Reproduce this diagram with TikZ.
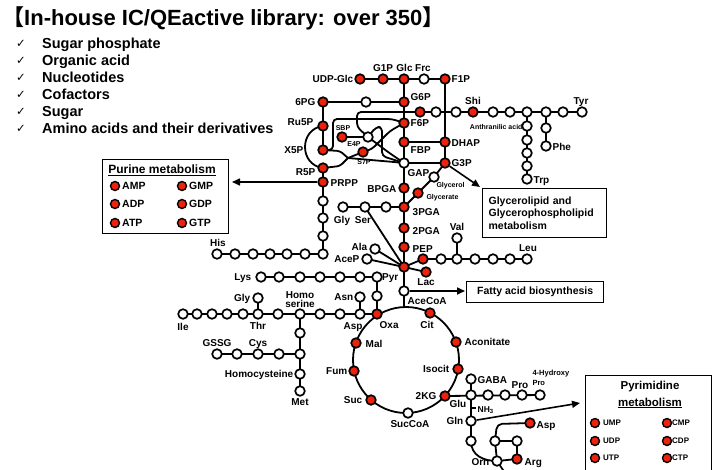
\documentclass[tikz,border=0pt]{standalone}
\usepackage{fontspec}
\setmainfont{Liberation Sans}
\newfontfamily\cjkf{Noto Sans CJK JP}
\newfontfamily\djv{DejaVu Sans}
\usetikzlibrary{arrows.meta}
\definecolor{nred}{RGB}{238,34,12}
\pgfdeclarelayer{back}
\pgfdeclarelayer{bg}
\pgfsetlayers{back,bg,main}
\tikzset{
  rn/.style={circle,draw=black,fill=nred,line width=1.7pt,minimum size=9.6pt,inner sep=0pt},
  wn/.style={rn,fill=white},
  bn/.style={circle,draw=black,fill=nred,line width=1.4pt,minimum size=9pt,inner sep=0pt},
  lab/.style={font=\bfseries\fontsize{10}{11}\selectfont,inner sep=0.5pt,text height=7.3pt,text depth=0pt},
  sml/.style={font=\bfseries\fontsize{7}{8}\selectfont,inner sep=0.3pt,text height=5.1pt,text depth=0pt},
  ln/.style={line width=1.8pt,line cap=round,line join=round},
  arr/.style={line width=1.6pt,-{Triangle[length=8pt,width=7pt]}},
  boxs/.style={draw=black,line width=1.3pt,inner sep=0pt},
}
\newcommand\ml[5][lab]{\node[#1,anchor=#2] (#3) at (#4) {#5};}
\begin{document}
\begin{tikzpicture}[x=1pt,y=-1pt]
\useasboundingbox (0,0) rectangle (717,469);
\begin{pgfonlayer}{back}
\fill[white] (0,0) rectangle (717,469);
\end{pgfonlayer}
% ---------- title and list
\node[anchor=west,inner sep=0,font=\bfseries\fontsize{22}{24}\selectfont] (title) at (2,18) {{\cjkf 【}In-house IC/QEactive library: over 350{\cjkf 】}};
\foreach \y/\t [count=\i] in {43/Sugar phosphate,60/Organic acid,77/Nucleotides,94/Cofactors,111/Sugar,128.5/Amino acids and their derivatives}{
  \node[inner sep=0,font=\djv\fontsize{11.5}{12}\selectfont,text height=8pt,text depth=0pt] (ck\i) at (21,\y) {✓};
  \node[anchor=west,inner sep=0,font=\bfseries\fontsize{14.5}{15}\selectfont,text height=10.4pt,text depth=0pt] (it\i) at (42,\y) {\t};
}
% ---------- glycolysis
\node[rn] (udp) at (360,79) {};
\node[rn] (g1p) at (383,79) {};
\node[rn] (glc) at (404,79) {};
\node[wn] (frc) at (424,79) {};
\node[rn] (f1p) at (445,79) {};
\node[rn] (pg6) at (323,102) {};
\node[wn] (w6) at (366,102) {};
\node[rn] (g6p) at (404,102) {};
\node[rn] (f6p) at (404,123) {};
\node[rn] (fbp) at (404,142) {};
\node[wn] (gap) at (404,163) {};
\node[rn] (dhap) at (445,142) {};
\node[rn] (g3p) at (445,163) {};
\node[rn] (bpga) at (404,188) {};
\node[rn] (pga3) at (404,207) {};
\node[rn] (pga2) at (404,228) {};
\node[rn] (pep) at (404,247) {};
\node[rn] (pyr) at (404,267) {};
\node[wn] (acoa) at (404,291) {};
\node[wn] (glyol) at (434,177) {};
\node[rn] (glyate) at (418,193) {};
% ---------- shikimate
\node[rn] (s1) at (420,112) {};
\node[wn] (s2) at (436,112) {};
\node[wn] (s3) at (456,112) {};
\node[rn] (shi) at (473,112) {};
\node[wn] (s5) at (493,112) {};
\node[wn] (s6) at (510,112) {};
\node[wn] (s7) at (527,112) {};
\node[wn] (s8) at (546,112) {};
\node[wn] (s9) at (563,112) {};
\node[wn] (tyr) at (582,112) {};
\node[wn] (t1) at (527,126) {};
\node[wn] (t2) at (527,140) {};
\node[wn] (t3) at (527,153) {};
\node[wn] (t4) at (527,166) {};
\node[wn] (trp) at (527,179) {};
\node[wn] (p1) at (546,128) {};
\node[wn] (phe) at (546,146) {};
% ---------- pentose phosphate
\node[rn] (ru5p) at (323,126) {};
\node[rn] (x5p) at (323,150) {};
\node[rn] (r5p) at (323,168) {};
\node[rn] (prpp) at (323,182) {};
\node[rn] (sbp) at (342,137) {};
\node[wn] (e4p) at (368,137) {};
\node[rn] (s7p) at (363,152) {};
\coordinate (jn) at (348,158);
% ---------- histidine
\node[wn] (r1) at (323,201) {};
\node[wn] (r2) at (323,218) {};
\node[wn] (r3) at (323,236) {};
\node[wn] (h7) at (323,254) {};
\node[wn] (h6) at (305,254) {};
\node[wn] (h5) at (287,254) {};
\node[wn] (h4) at (270,254) {};
\node[wn] (h3) at (253,254) {};
\node[wn] (h2) at (235,254) {};
\node[wn] (his) at (217,254) {};
% ---------- around pyruvate
\node[wn] (gly1) at (343,207) {};
\node[wn] (ser) at (365,207) {};
\node[wn] (gs3) at (386,207) {};
\node[wn] (ala) at (375,249) {};
\node[wn] (acep) at (367,259) {};
\node[rn] (lac) at (426,272) {};
\node[rn] (v0) at (423,259) {};
\node[wn] (v1) at (441,259) {};
\node[wn] (v2) at (457,259) {};
\node[wn] (val) at (457,238) {};
\node[wn] (v3) at (475,259) {};
\node[wn] (v4) at (493,259) {};
\node[wn] (v5) at (510,259) {};
\node[wn] (leu) at (527,259) {};
% ---------- lysine row
\foreach \x [count=\i] in {261,279,300,320,340,360,377}{\node[wn] (k\i) at (\x,277) {};}
\node[wn] (k8) at (377,296) {};
% ---------- aspartate family
\node[wn] (ile) at (183,314) {};
\node[wn] (i2) at (197,314) {};
\node[wn] (i3) at (212,314) {};
\node[wn] (i4) at (227,314) {};
\node[wn] (i5) at (243,314) {};
\node[wn] (thr) at (258,314) {};
\node[wn] (m1) at (278,314) {};
\node[wn] (hser) at (300,314) {};
\node[wn] (m2) at (320,314) {};
\node[wn] (m3) at (340,314) {};
\node[wn] (asp) at (360,314) {};
\node[rn] (oxa) at (377,314) {};
\node[wn] (gly2) at (258,298) {};
\node[wn] (asn) at (360,297) {};
\node[wn] (gssg) at (217,354) {};
\node[wn] (c2) at (237,354) {};
\node[wn] (cys) at (258,354) {};
\node[wn] (c4) at (279,354) {};
\node[wn] (c5) at (300,354) {};
\node[wn] (vh) at (300,333) {};
\node[wn] (hcy) at (300,374) {};
\node[wn] (met) at (300,391) {};
% ---------- TCA
\coordinate (tcac) at (406,360);
\coordinate (tcatop) at (404,307.2);
\node[rn] (cit) at (430,313) {};
\node[rn] (acon) at (456,342) {};
\node[rn] (isoc) at (458,369) {};
\node[rn] (kg) at (445,396) {};
\node[wn] (succoa) at (408,413) {};
\node[rn] (suc) at (371,400) {};
\node[rn] (fum) at (354,371) {};
\node[rn] (mal) at (356,343) {};
% ---------- glutamate region
\node[wn] (glu) at (471,395) {};
\node[wn] (e2) at (488,395) {};
\node[wn] (e3) at (505,395) {};
\node[wn] (pro) at (522,395) {};
\node[wn] (hypro) at (540,395) {};
\node[wn] (gaba) at (471,379) {};
\node[wn] (gln) at (471,421) {};
\node[wn] (n1) at (471,441) {};
\node[wn] (o1) at (495,441) {};
\node[wn] (o2) at (517,441) {};
\node[rn] (arg) at (517,459) {};
\node[wn] (orn) at (497,461) {};
\node[rn] (asp2) at (530,423) {};
\coordinate (ornout) at (507,476);
\coordinate (nh3a) at (471,408);
\coordinate (nh3b) at (476,408);
% ---------- connectors
\begin{pgfonlayer}{bg}
\draw[ln] (udp.center) -- (f1p.center);
\draw[ln] (glc.center) -- (acoa.center);
\draw[ln] (acoa.center) -- (tcatop);
\draw[ln] (f1p.center) -- (g3p.center);
\draw[ln] (pg6.center) -- (g6p.center);
\draw[ln] (fbp.center) -- (dhap.center);
\draw[ln] (gap.center) -- (g3p.center);
\draw[ln] (g3p.center) -- (glyol.center) -- (glyate.center) -- (pga3.center);
\draw[ln] (s1.center) -- (tyr.center);
\draw[ln] (s7.center) -- (trp.center);
\draw[ln] (s8.center) -- (phe.center);
\draw[ln] (pg6.center) -- (x5p.center);
\draw[ln] (ru5p.center) .. controls (299,129) and (299,165) .. (r5p.center);
\draw[ln] (r5p.center) -- (h7.center) -- (his.center);
\draw[ln] (sbp.center) -- (e4p.center);
\draw[ln,rounded corners=4pt] (e4p.center) -- (357,127) -- (357,112) -- (s1.center);
\draw[ln,rounded corners=4pt] (x5p.center) -- (333,150) -- (333,119) -- (392,119) -- (f6p.center);
\draw[ln,rounded corners=4pt] (e4p.center) -- (376,127) -- (382,127) -- (382,156) -- (gap.center);
\draw[ln,rounded corners=3pt] (x5p.center) -- (340,151) -- (jn);
\draw[ln,rounded corners=3pt] (r5p.center) -- (340,166) -- (jn);
\draw[ln] (jn) -- (s7p.center);
\draw[ln,rounded corners=4pt] (jn) -- (394,162) -- (gap.center);
\draw[ln,rounded corners=4pt] (s7p.center) -- (372,149) -- (390,131) -- (f6p.center);
\draw[ln,rounded corners=4pt] (e4p.center) -- (388,152) -- (gap.center);
\draw[ln] (gly1.center) -- (pga3.center);
\draw[ln] (ser.center) -- (pyr.center);
\draw[ln] (ala.center) -- (pyr.center);
\draw[ln] (acep.center) -- (pyr.center);
\draw[ln] (pyr.center) -- (lac.center);
\draw[ln] (pyr.center) -- (v0.center) -- (leu.center);
\draw[ln] (v2.center) -- (val.center);
\draw[ln] (k1.center) -- (k7.center) -- (oxa.center);
\draw[ln] (ile.center) -- (oxa.center);
\draw[ln] (thr.center) -- (gly2.center);
\draw[ln] (asp.center) -- (asn.center);
\draw[ln] (hser.center) -- (met.center);
\draw[ln] (gssg.center) -- (c5.center);
\draw[ln] (tcac) circle[radius=53pt];
\draw[ln] (kg.center) -- (hypro.center);
\draw[ln] (gaba.center) -- (n1.center);
\draw[ln] (n1.center) .. controls (471,456) and (484,461) .. (orn.center);
\draw[ln] (o1.center) -- (o2.center) -- (arg.center) -- (orn.center) -- (o1.center);
\draw[ln,rounded corners=5pt] (o1.center) -- (497,424) -- (asp2.center);
\draw[ln] (orn.center) -- (ornout);
\draw[line width=1.2pt] (nh3a) -- (nh3b);
\end{pgfonlayer}
% ---------- arrows
\coordinate (purtip) at (232,182);
\coordinate (gltip) at (480,187);
\coordinate (fatip) at (465,291);
\coordinate (pytip) at (580,403);
\draw[arr] (prpp) -- (purtip);
\draw[arr] (g3p) -- (gltip);
\draw[arr] (acoa) -- (fatip);
\draw[arr] (gln) -- (pytip);
% ---------- labels
\ml{east}{tudp}{354,79}{UDP-Glc}
\ml{south}{tg1p}{383,72}{G1P}
\ml{south}{tglc}{404.5,72}{Glc}
\ml{south}{tfrc}{423,72}{Frc}
\ml{west}{tf1p}{451,79}{F1P}
\ml{east}{t6pg}{316,102}{6PG}
\ml{west}{tg6p}{410,97}{G6P}
\ml{west}{tf6p}{410,123}{F6P}
\ml{west}{tfbp}{410,150}{FBP}
\ml{west}{tdhap}{451,143}{DHAP}
\ml{west}{tg3p}{451,163}{G3P}
\ml{west}{tgap}{407,173}{GAP}
\ml{east}{tbpga}{397,189}{BPGA}
\ml{west}{t3pga}{412,212}{3PGA}
\ml{west}{t2pga}{412,231}{2PGA}
\ml{west}{tpep}{412,249}{PEP}
\ml{east}{tpyr}{399,277}{Pyr}
\ml{west}{tacoa}{407,301}{AceCoA}
\ml[sml]{west}{tglyol}{436,185}{Glycerol}
\ml[sml]{west}{tglyate}{426,197}{Glycerate}
\ml{south}{tshi}{473,105}{Shi}
\ml{south}{ttyr}{581,105}{Tyr}
\ml[sml]{east}{tanth}{523,127}{Anthranilic acid}
\ml{west}{ttrp}{533,180}{Trp}
\ml{west}{tphe}{552,147}{Phe}
\ml{east}{tru5p}{314,122}{Ru5P}
\ml{east}{tx5p}{304,150}{X5P}
\ml{east}{tr5p}{316,172}{R5P}
\ml{west}{tprpp}{330,183}{PRPP}
\ml[sml]{south}{tsbp}{343,131}{SBP}
\ml[sml]{center}{te4p}{354,144}{E4P}
\ml[sml]{center}{ts7p}{364,162}{S7P}
\ml{south}{this}{218,247}{His}
\ml{center}{tgly1}{342,220}{Gly}
\ml{center}{tser}{363,220}{Ser}
\ml{east}{tala}{368,247}{Ala}
\ml{east}{tacep}{360,259}{AceP}
\ml{center}{tlac}{426,282}{Lac}
\ml{south}{tval}{457,231}{Val}
\ml{south}{tleu}{528,252}{Leu}
\ml{east}{tlys}{252,277}{Lys}
\ml{east}{tgly2}{251,298}{Gly}
\ml{center}{tthr}{258,326}{Thr}
\ml{center}{tile}{183,327}{Ile}
\node[align=center,anchor=south,inner sep=0.5pt,font=\bfseries\fontsize{10}{9}\selectfont] (thser) at (300,308) {Homo\\serine};
\ml{east}{tasn}{354,297}{Asn}
\ml{center}{tasp}{353,326}{Asp}
\ml{west}{toxa}{379,325}{Oxa}
\ml{south}{tgssg}{217,347}{GSSG}
\ml{south}{tcys}{258,347}{Cys}
\ml{east}{thcy}{294,374}{Homocysteine}
\ml{center}{tmet}{300,402}{Met}
\ml{center}{tcit}{427,325}{Cit}
\ml{west}{tacon}{464,342}{Aconitate}
\ml{east}{tisoc}{450,369}{Isocit}
\ml{east}{tkg}{437,396}{2KG}
\ml{center}{tsuccoa}{410,424}{SucCoA}
\ml{east}{tsuc}{363,400}{Suc}
\ml{east}{tfum}{348,371}{Fum}
\ml{west}{tmal}{365,344}{Mal}
\ml{west}{tgaba}{477,380}{GABA}
\ml{center}{tpro}{520,385}{Pro}
\node[align=left,anchor=north west,inner sep=0.3pt,font=\bfseries\fontsize{7.5}{10}\selectfont] (thyp) at (532,370) {4-Hydroxy\\Pro};
\ml{center}{tglu}{458,404}{Glu}
\node[anchor=west,inner sep=0.5pt,font=\bfseries\fontsize{8.5}{9}\selectfont] (tnh3) at (477,410) {NH\textsubscript{3}};
\ml{east}{tgln}{464,421}{Gln}
\ml{east}{torn}{490,462}{Orn}
\ml{west}{targ}{524,462}{Arg}
\ml{west}{tasp2}{536,425}{Asp}
% ---------- boxes
\node[boxs,anchor=north west,minimum width=126pt,minimum height=74pt] (pbox) at (102,159) {};
\node[inner sep=0,font=\bfseries\fontsize{12}{13}\selectfont] (ptitle) at (162,170) {\underline{Purine metabolism}};
\foreach \y/\a/\b [count=\i] in {186/AMP/GMP,204/ADP/GDP,223/ATP/GTP}{
  \node[bn] (pa\i) at (115,\y) {};
  \node[anchor=west,inner sep=0,font=\bfseries\fontsize{10.5}{11}\selectfont,text height=7.6pt,text depth=0pt] (pat\i) at (122,\y) {\a};
  \node[bn] (pg\i) at (182,\y) {};
  \node[anchor=west,inner sep=0,font=\bfseries\fontsize{10.5}{11}\selectfont,text height=7.6pt,text depth=0pt] (pgt\i) at (189,\y) {\b};
}
\node[boxs,anchor=north west,minimum width=126pt,minimum height=104pt] (ybox) at (585,375) {};
\node[inner sep=0,font=\bfseries\fontsize{11.5}{12}\selectfont] (ytitle1) at (650,387) {Pyrimidine};
\node[inner sep=0,font=\bfseries\fontsize{11.5}{12}\selectfont] (ytitle2) at (650,403) {\underline{metabolism}};
\foreach \y/\a/\b [count=\i] in {423/UMP/CMP,441/UDP/CDP,458/UTP/CTP}{
  \node[bn] (ya\i) at (595,\y) {};
  \node[anchor=west,inner sep=0,font=\bfseries\fontsize{8}{9}\selectfont,text height=5.8pt,text depth=0pt] (yat\i) at (603,\y) {\a};
  \node[bn] (yg\i) at (667,\y) {};
  \node[anchor=west,inner sep=0,font=\bfseries\fontsize{8}{9}\selectfont,text height=5.8pt,text depth=0pt] (ygt\i) at (672,\y) {\b};
}
\node[boxs,anchor=north west,minimum width=123pt,minimum height=49pt,text width=112pt,align=left,inner xsep=6pt,font=\bfseries\fontsize{10.5}{12.6}\selectfont] (glbox) at (482,188) {Glycerolipid and\\Glycerophospholipid\\metabolism};
\node[boxs,anchor=north west,minimum width=137pt,minimum height=21pt,font=\bfseries\fontsize{10.5}{11}\selectfont] (fabox) at (466,281) {Fatty acid biosynthesis};
\end{tikzpicture}
\end{document}
